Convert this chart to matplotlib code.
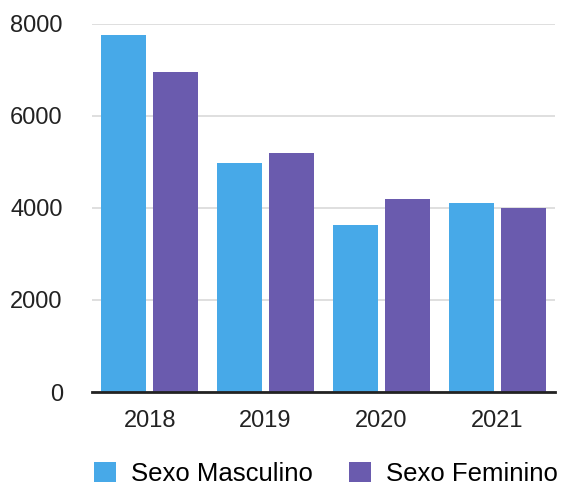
import matplotlib
matplotlib.use("Agg")
import matplotlib.pyplot as plt
import numpy as np

plt.rcParams['font.family'] = ['Liberation Sans', 'DejaVu Sans']

years = ["2018", "2019", "2020", "2021"]
masculino = [7760, 4980, 3640, 4110]
feminino = [6960, 5200, 4200, 4010]
series_names = ["Sexo Masculino", "Sexo Feminino"]
colors = ["#47A9E8", "#6A5BAE"]
yticks = [0, 2000, 4000, 6000, 8000]

fig = plt.figure(figsize=(5.69, 4.86), dpi=100)
ax = fig.add_axes([92/569, 1-392/486, (555-92)/569, (392-24)/486])

x = np.arange(len(years))
w = 0.39
off = 0.225
ax.bar(x - off, masculino, width=w, color=colors[0], label=series_names[0], zorder=3)
ax.bar(x + off, feminino, width=w, color=colors[1], label=series_names[1], zorder=3)

ax.set_xlim(-0.5, 3.5)
ax.set_ylim(0, 8000)
ax.set_yticks(yticks)
ax.set_yticklabels([str(v) for v in yticks])
ax.set_xticks(x)
ax.set_xticklabels(years)
ax.yaxis.grid(True, color="#d9d9d9", linewidth=1.2, zorder=0)
for s in ["left", "right", "top"]:
    ax.spines[s].set_visible(False)
ax.spines["bottom"].set_color("#222222")
ax.spines["bottom"].set_linewidth(2)
ax.spines["bottom"].set_zorder(4)
ax.tick_params(axis="both", length=0, labelsize=17, colors="#222222")
ax.tick_params(axis="y", pad=21)
ax.tick_params(axis="x", pad=13)

leg = fig.legend(loc="center", bbox_to_anchor=(0.573, 1-474/486), ncol=2, frameon=False,
                 fontsize=18.5, handlelength=0.85, handleheight=0.85, columnspacing=1.4,
                 handletextpad=0.6, borderpad=0)

fig.savefig("out.png", dpi=100)
